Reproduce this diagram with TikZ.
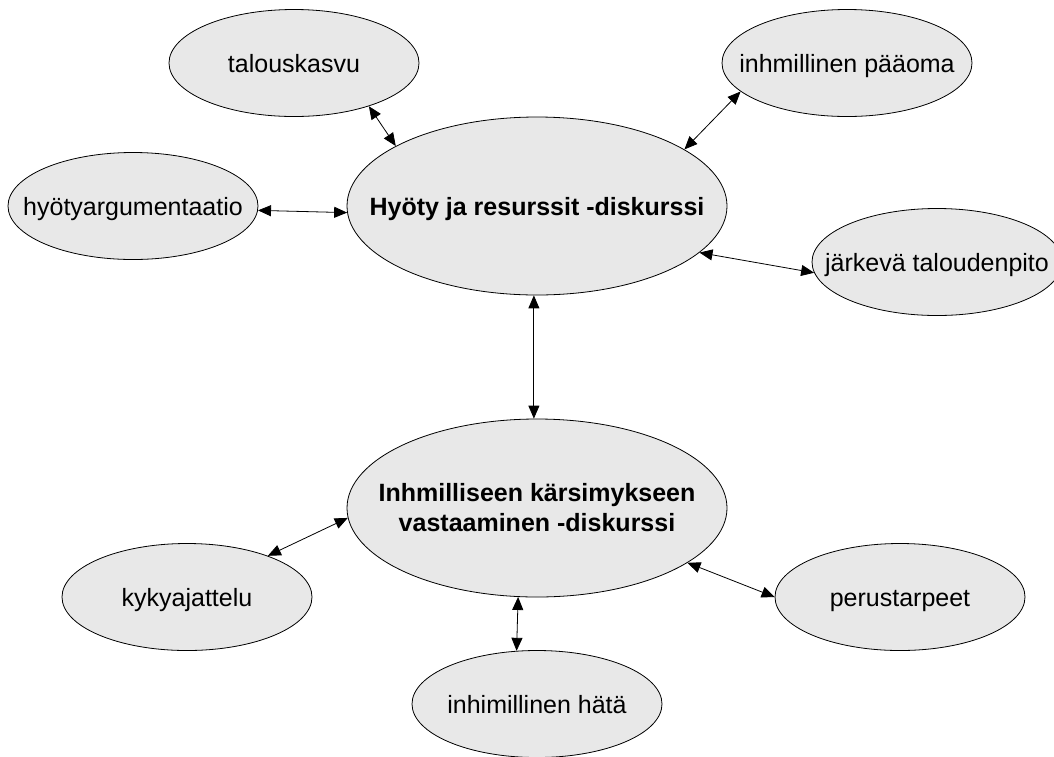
\documentclass[tikz,border=0pt]{standalone}
\usepackage{fontspec}
\setmainfont{Liberation Sans}
\usetikzlibrary{
	arrows.meta,
	shapes.geometric
}
\definecolor{bubblegrey}{RGB}{232,232,232}

\begin{document}
\begin{tikzpicture}[x=1pt,y=-1pt,<->,>={Triangle[length=13pt,width=11pt]},line width=0.8pt,
        main node/.style={ellipse,draw,fill=bubblegrey,inner sep=0pt,minimum width=250pt,minimum height=107pt},
        big node/.style={main node,minimum width=380pt,minimum height=178pt},
        bubtext/.style={font=\fontsize{25}{30}\selectfont},
        one line/.style={bubtext,text height=18pt,text depth=0pt},
        bold line/.style={one line,font=\fontsize{25}{30}\selectfont\bfseries}]
        \useasboundingbox (0,0) rectangle (1054,756);

        % the two discourses
        \node[big node,label={[bold line]center:Hyöty ja resurssit -diskurssi}] (hyo) at (537,206) {};
        \node[big node,label={[bubtext,font=\fontsize{25}{30}\selectfont\bfseries,align=center]center:Inhmilliseen kärsimykseen\\vastaaminen -diskurssi}] (ink) at (537,508) {};

        % round the first one
        \node[main node,label={[one line]center:talouskasvu}] (tal) at (294,63) {};
        \node[main node,label={[one line]center:inhmillinen pääoma}] (pao) at (847,63) {};
        \node[main node,label={[one line]center:hyötyargumentaatio}] (arg) at (133,206) {};
        \node[main node,label={[one line]center:järkevä taloudenpito}] (jar) at (937,262) {};

        % round the second one
        \node[main node,label={[one line]center:kykyajattelu}] (kyk) at (187,597) {};
        \node[main node,label={[one line]center:perustarpeet}] (per) at (900,597) {};
        \node[main node,label={[one line]center:inhimillinen hätä}] (hat) at (537,704) {};

          \draw (tal.-30) -- (hyo.157);
          \draw (pao.195) -- (hyo.21);
          \draw (arg.-2) -- (hyo.182);
          \draw (jar.185) -- (hyo.-16);

          \draw (hyo.-92.5) -- (ink.92.5);

          \draw (kyk.27) -- (ink.183);
          \draw (per.180) -- (ink.-20);
          \draw (hat.111) -- (ink.-102);

      \end{tikzpicture}
\end{document}
